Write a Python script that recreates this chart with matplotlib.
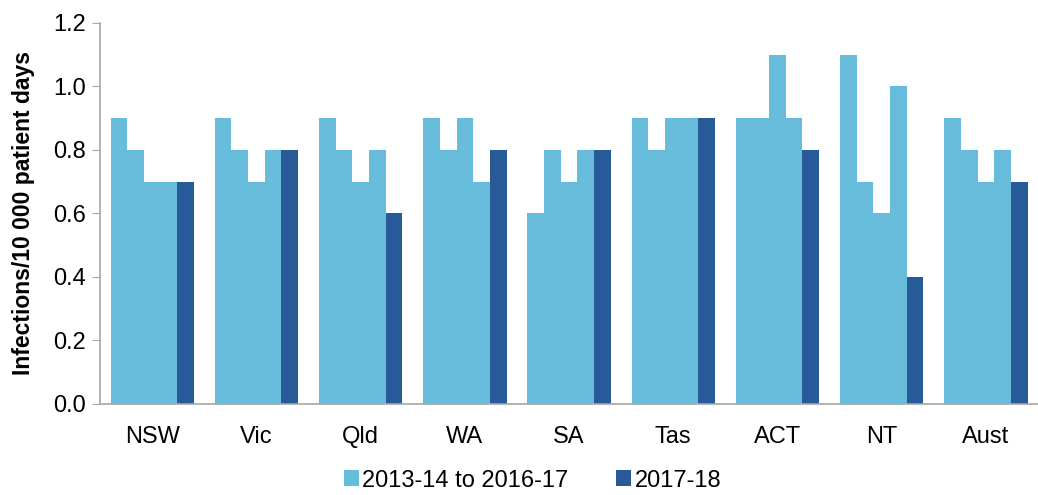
import numpy as np
import matplotlib
matplotlib.use('Agg')
import matplotlib.pyplot as plt

plt.rcParams['font.family'] = ['Liberation Sans', 'DejaVu Sans']

states = ["NSW", "Vic", "Qld", "WA", "SA", "Tas", "ACT", "NT", "Aust"]
# four earlier years (2013-14 .. 2016-17), then 2017-18
y1314 = [0.9, 0.9, 0.9, 0.9, 0.6, 0.9, 0.9, 1.1, 0.9]
y1415 = [0.8, 0.8, 0.8, 0.8, 0.8, 0.8, 0.9, 0.7, 0.8]
y1516 = [0.7, 0.7, 0.7, 0.9, 0.7, 0.9, 1.1, 0.6, 0.7]
y1617 = [0.7, 0.8, 0.8, 0.7, 0.8, 0.9, 0.9, 1.0, 0.8]
y1718 = [0.7, 0.8, 0.6, 0.8, 0.8, 0.9, 0.8, 0.4, 0.7]

light = "#67bbdb"
dark = "#285a9a"

fig = plt.figure(figsize=(10.38, 4.95), dpi=100)
ax = fig.add_axes([0.0965, 0.184, 0.9035, 0.77])

x = np.arange(len(states))
w = 0.16
series = [y1314, y1415, y1516, y1617, y1718]
for i, s in enumerate(series):
    col = dark if i == 4 else light
    lab = None
    if i == 0:
        lab = "2013-14 to 2016-17"
    elif i == 4:
        lab = "2017-18"
    ax.bar(x + (i - 2) * w, s, w, color=col, label=lab, linewidth=0)

ax.set_xlim(-0.5, 8.5)
ax.set_ylim(0, 1.2)
ax.set_yticks(np.arange(0, 1.21, 0.2))
ax.set_yticklabels(["%.1f" % v for v in np.arange(0, 1.21, 0.2)], fontsize=17)
ax.set_xticks(x)
ax.set_xticklabels(states, fontsize=17)
ax.tick_params(axis='x', length=0, pad=16)
ax.tick_params(axis='y', length=6, color="#a6a6a6", direction='out', pad=4)
ax.set_ylabel("Infections/10 000 patient days", fontsize=16.5, fontweight='bold', labelpad=13)

for sp in ["top", "right"]:
    ax.spines[sp].set_visible(False)
ax.spines["left"].set_color("#a6a6a6")
ax.spines["bottom"].set_color("#a6a6a6")
ax.spines["left"].set_linewidth(1.2)
ax.spines["bottom"].set_linewidth(1.2)

fig.legend(loc="lower center", bbox_to_anchor=(0.513, -0.036), ncol=2, frameon=False,
           fontsize=17, handlelength=0.65, handleheight=0.65, handletextpad=0.15, columnspacing=2.0)

fig.savefig("out.png", dpi=100)
